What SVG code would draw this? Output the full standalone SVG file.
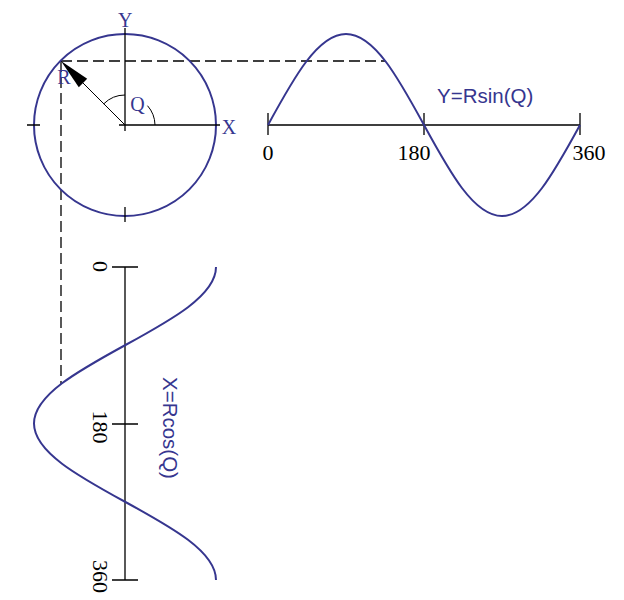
<svg xmlns="http://www.w3.org/2000/svg" width="624" height="600" viewBox="0 0 624 600">
<style>
.blue{fill:none;stroke:#36368f;stroke-width:2}
.ax{fill:none;stroke:#000;stroke-width:1.3}
.thin{fill:none;stroke:#000;stroke-width:1}
.dash{fill:none;stroke:#000;stroke-width:1.3;stroke-dasharray:11 5}
.lbl{font-family:"Liberation Serif","Times New Roman",serif;font-size:20px;fill:#36368f}
.num{font-family:"Liberation Serif","Times New Roman",serif;font-size:22px;fill:#000}
.eq{font-family:"Liberation Sans",Arial,sans-serif;font-size:20.5px;fill:#36368f}
</style>
<rect width="624" height="600" fill="#fff"/>
<g id="connectors">
<path class="dash" d="M61,61 H385"/>
<path class="dash" d="M61,61 V384"/>
</g>
<g id="circle">
<circle class="blue" cx="125" cy="125" r="91"/>
<path class="ax" d="M125,28 V131 M119,125 H220 M27,125 H40 M125,207 V222"/>
<path class="thin" d="M125,125 L83,83"/>
<polygon points="61,61 87.2,78.8 78.8,87.2" fill="#000"/>
<path class="thin" d="M103.8,103.8 A30,30 0 0 1 125,95"/>
<path class="thin" d="M147.5,105.7 A30,30 0 0 1 155,125"/>
<text class="lbl" x="125.3" y="26.5" text-anchor="middle">Y</text>
<text class="lbl" x="229" y="134" text-anchor="middle">X</text>
<text class="lbl" x="137.5" y="110.5" text-anchor="middle">Q</text>
<text class="lbl" x="64" y="83.5" text-anchor="middle">R</text>
</g>
<g id="sine">
<path class="ax" d="M268,125 H580 M268,113 V135 M424,113 V135 M580,113 V135"/>
<path class="blue" d="M268,125 C293.44,78.38 317.77,34 346,34 C374.23,34 398.56,78.38 424,125 C449.44,171.62 473.77,216 502,216 C530.23,216 554.56,171.62 580,125"/>
<text class="num" x="268" y="160" text-anchor="middle">0</text>
<text class="num" x="414" y="160" text-anchor="middle">180</text>
<text class="num" x="589" y="160" text-anchor="middle">360</text>
<text class="eq" x="437" y="103.3">Y=Rsin(Q)</text>
</g>
<g id="cosine">
<path class="ax" d="M125,267 V580 M112,267 H138 M112,424 H138 M112,580 H138"/>
<path class="blue" d="M216,267 C216,295.32 171.62,319.73 125,345.25 C78.38,370.77 34,395.18 34,423.5 C34,451.82 78.38,476.23 125,501.75 C171.62,527.27 216,551.68 216,580"/>
<text class="num" transform="translate(93,266.5) rotate(90)" text-anchor="middle">0</text>
<text class="num" transform="translate(93,427) rotate(90)" text-anchor="middle">180</text>
<text class="num" transform="translate(93,576.5) rotate(90)" text-anchor="middle">360</text>
<text class="eq" transform="translate(163,377) rotate(90)">X=Rcos(Q)</text>
</g>
</svg>
